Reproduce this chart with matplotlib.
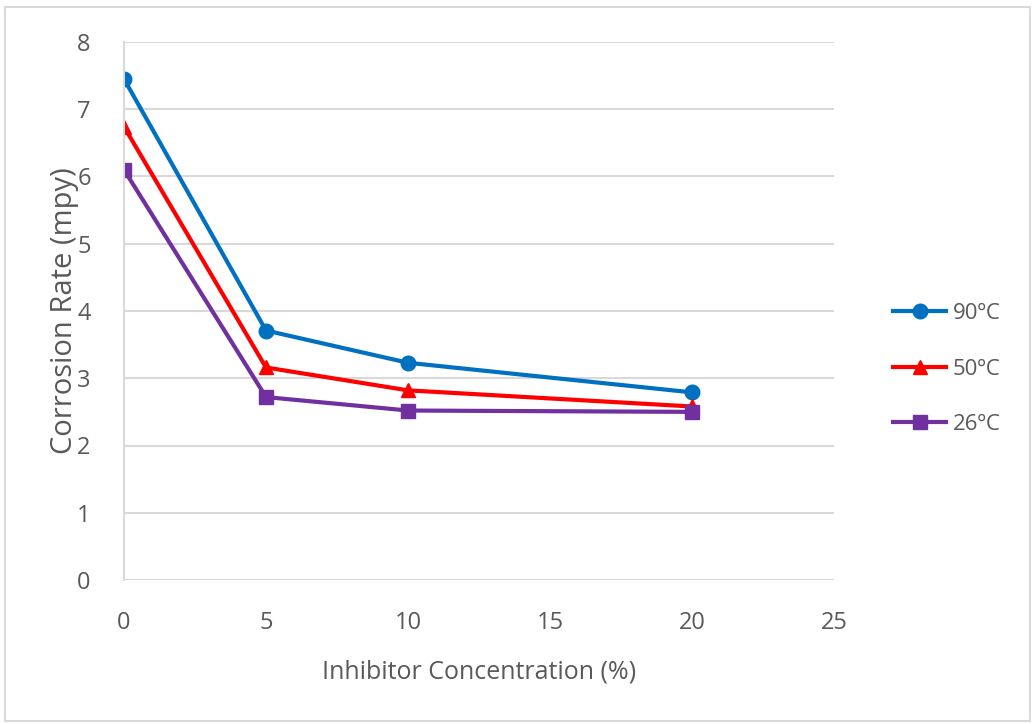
import matplotlib
matplotlib.use("Agg")
import matplotlib.pyplot as plt
from matplotlib.patches import Rectangle

conc = [0, 5, 10, 20]
rate_90 = [7.45, 3.71, 3.23, 2.79]
rate_50 = [6.74, 3.16, 2.82, 2.58]
rate_26 = [6.10, 2.72, 2.52, 2.50]
labels = ["90ºC", "50ºC", "26ºC"]
xticks = [0, 5, 10, 15, 20, 25]
yticks = [0, 1, 2, 3, 4, 5, 6, 7, 8]

plt.rcParams['font.family'] = ['Open Sans', 'DejaVu Sans']
txt = '#595959'

fig = plt.figure(figsize=(10.35, 7.24), dpi=100)
fig.patches.append(Rectangle((5/1035, 3/724), 1025/1035, 714/724, transform=fig.transFigure,
                             fill=False, edgecolor='#d9d9d9', linewidth=1.5))
ax = fig.add_axes([124/1035, 1-580/724, 710/1035, 538/724])

ax.plot(conc, rate_90, color='#0070c0', lw=3, marker='o', ms=10.5, label=labels[0])
ax.plot(conc, rate_50, color='#ff0000', lw=3, marker='^', ms=10.5, label=labels[1])
ax.plot(conc, rate_26, color='#7030a0', lw=3, marker='s', ms=10, label=labels[2])

ax.set_xlim(0, 25)
ax.set_ylim(0, 8)
ax.set_xticks(xticks)
ax.set_yticks(yticks)
ax.grid(axis='y', color='#d9d9d9', lw=1.5)
ax.set_axisbelow(True)
for s in ['top', 'right', 'bottom']:
    ax.spines[s].set_visible(False)
ax.spines['left'].set_color('#d9d9d9')
ax.spines['left'].set_linewidth(1.5)
ax.tick_params(length=0, labelsize=17, colors=txt)
ax.tick_params(axis='x', pad=22)
ax.tick_params(axis='y', pad=24)
ax.set_xlabel("Inhibitor Concentration (%)", fontsize=18, color=txt, labelpad=18)
ax.set_ylabel("Corrosion Rate (mpy)", fontsize=21, color=txt)
ax.yaxis.set_label_coords(-0.064, 0.5)

leg = ax.legend(loc='center left', bbox_to_anchor=(1.055, 0.392), frameon=False,
                fontsize=16, labelspacing=1.55, handlelength=2.4, handletextpad=0.3)
for t in leg.get_texts():
    t.set_color(txt)

fig.savefig("out.png", dpi=100)
